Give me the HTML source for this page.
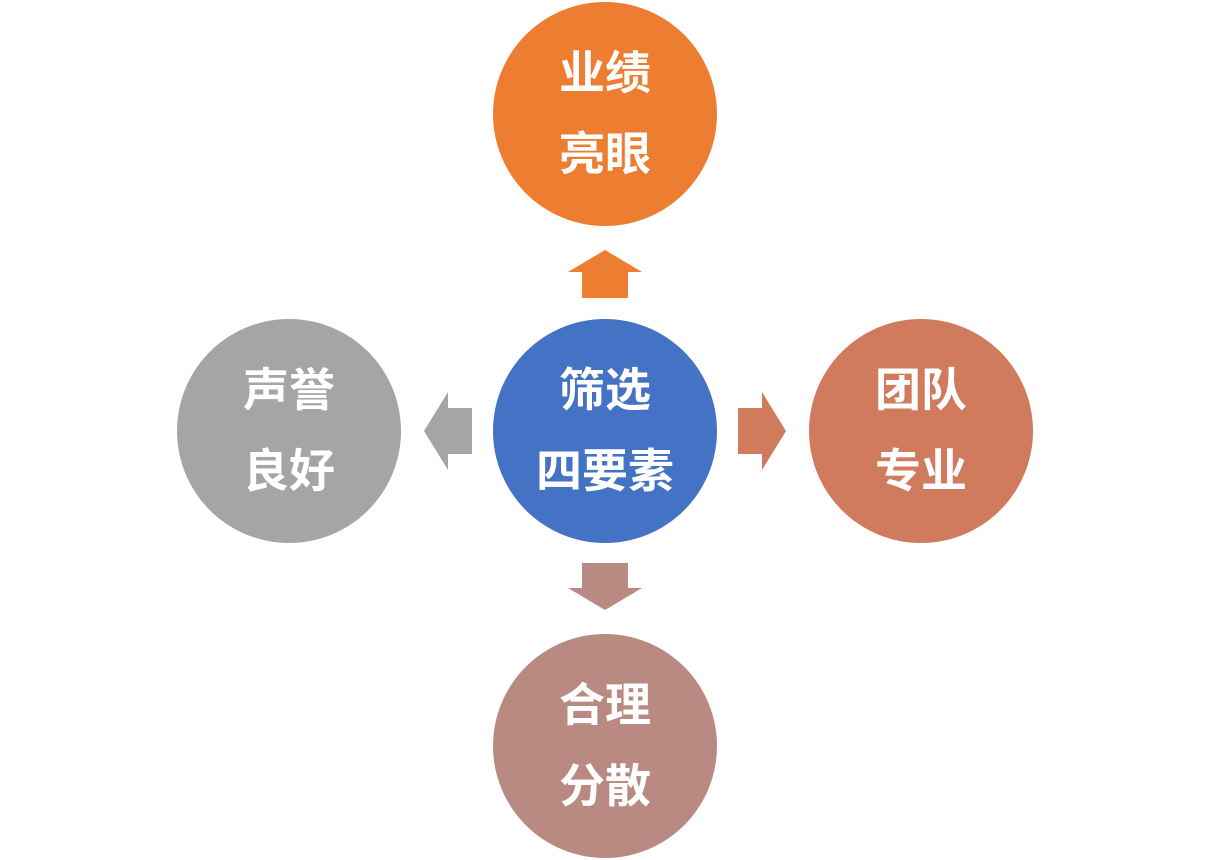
<!DOCTYPE html>
<html><head><meta charset="utf-8"><style>
body{margin:0;width:1210px;height:860px;background:#fff;overflow:hidden;position:relative;font-family:"Liberation Sans","Noto Sans CJK SC",sans-serif}
.c{position:absolute;width:224px;height:224px;border-radius:50%;color:#fff;font-weight:bold;font-size:46px;text-align:center;display:flex;flex-direction:column;justify-content:center;line-height:81px}
svg{position:absolute;left:0;top:0}
</style></head><body>
<div class="c" style="left:493px;top:2px;background:#ED7D31"><div>业绩</div><div>亮眼</div></div>
<div class="c" style="left:493px;top:319px;background:#4472C4"><div>筛选</div><div>四要素</div></div>
<div class="c" style="left:177px;top:319px;background:#A5A5A5"><div>声誉</div><div>良好</div></div>
<div class="c" style="left:809px;top:319px;background:#D07B5D"><div>团队</div><div>专业</div></div>
<div class="c" style="left:493px;top:634px;background:#B98A81"><div>合理</div><div>分散</div></div>
<svg width="1210" height="860">
<polygon points="605,250 642,272 628,272 628,298 582,298 582,272 568,272" fill="#ED7D31"/>
<polygon points="605,610 642,588 628,588 628,563 582,563 582,588 568,588" fill="#B98A81"/>
<polygon points="786,431 762,392 762,408 738,408 738,454 762,454 762,470" fill="#D07B5D"/>
<polygon points="424,431 448,392 448,408 472,408 472,454 448,454 448,470" fill="#A5A5A5"/>
</svg>
</body></html>
